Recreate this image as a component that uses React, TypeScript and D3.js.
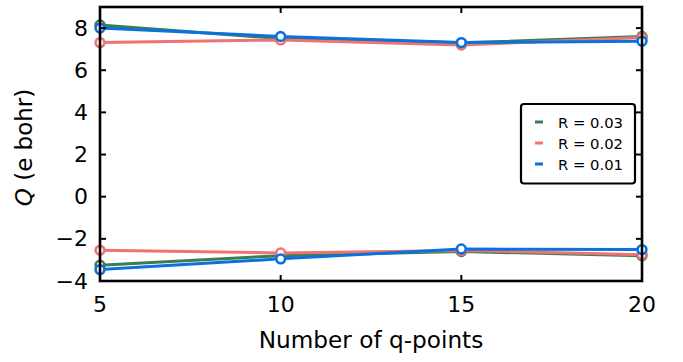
import React from "react";
import * as d3 from "d3";

const qPoints = [5, 10, 15, 20];
const seriesNames = ["R = 0.03", "R = 0.02", "R = 0.01"];
const seriesColors = ["#3a7d55", "#f07373", "#0a72dc"];
// Upper and lower branches of Q for each R
const upperR003 = [8.15, 7.5, 7.3, 7.6];
const lowerR003 = [-3.25, -2.8, -2.6, -2.8];
const upperR002 = [7.31, 7.44, 7.2, 7.55];
const lowerR002 = [-2.54, -2.67, -2.55, -2.75];
const upperR001 = [8.0, 7.6, 7.31, 7.38];
const lowerR001 = [-3.46, -2.95, -2.48, -2.51];
const yTicks = [-4, -2, 0, 2, 4, 6, 8];
const xTicks = [5, 10, 15, 20];

const series = [
  { name: seriesNames[0], color: seriesColors[0], branches: [upperR003, lowerR003] },
  { name: seriesNames[1], color: seriesColors[1], branches: [upperR002, lowerR002] },
  { name: seriesNames[2], color: seriesColors[2], branches: [upperR001, lowerR001] },
];

const W = 683;
const H = 362;
const left = 100;
const right = 642;
const top = 7;
const bottom = 281;

export default function App() {
  const x = d3.scaleLinear().domain([5, 20]).range([left, right]);
  const y = d3.scaleLinear().domain([-4, 9]).range([bottom, top]);
  const line = d3
    .line<number>()
    .x((_, i) => x(qPoints[i]))
    .y((d) => y(d));
  const font = "DejaVu Sans, sans-serif";
  const tickLen = 6;

  return (
    <svg
      width={W}
      height={H}
      style={{ position: "absolute", left: 0, top: 0, background: "#fff" }}
      fontFamily={font}
    >
      {/* data lines */}
      {series.map((s) =>
        s.branches.map((b, bi) => (
          <path
            key={s.name + bi}
            d={line(b) || ""}
            fill="none"
            stroke={s.color}
            strokeWidth={3}
            strokeLinejoin="round"
          />
        ))
      )}
      {/* markers */}
      {series.map((s) =>
        s.branches.map((b, bi) =>
          b.map((v, i) => (
            <circle
              key={s.name + bi + "-" + i}
              cx={x(qPoints[i])}
              cy={y(v)}
              r={4.4}
              fill="#fff"
              stroke={s.color}
              strokeWidth={2.6}
            />
          ))
        )
      )}
      {/* frame */}
      <rect
        x={left}
        y={top}
        width={right - left}
        height={bottom - top}
        fill="none"
        stroke="#000"
        strokeWidth={2.6}
      />
      {/* y ticks, both sides */}
      {yTicks.map((t) => (
        <g key={"y" + t}>
          <line x1={left} x2={left + tickLen} y1={y(t)} y2={y(t)} stroke="#000" strokeWidth={2} />
          <line x1={right} x2={right - tickLen} y1={y(t)} y2={y(t)} stroke="#000" strokeWidth={2} />
          <text
            x={88}
            y={y(t)}
            textAnchor="end"
            dominantBaseline="central"
            fontSize={22}
            fill="#000"
          >
            {t < 0 ? "\u2212" + Math.abs(t) : String(t)}
          </text>
        </g>
      ))}
      {/* x ticks, both sides */}
      {xTicks.map((t) => (
        <g key={"x" + t}>
          <line x1={x(t)} x2={x(t)} y1={bottom} y2={bottom - tickLen} stroke="#000" strokeWidth={2} />
          <line x1={x(t)} x2={x(t)} y1={top} y2={top + tickLen} stroke="#000" strokeWidth={2} />
          <text x={x(t)} y={312.3} textAnchor="middle" fontSize={22} fill="#000">
            {t}
          </text>
        </g>
      ))}
      {/* axis labels */}
      <text x={371} y={348.3} textAnchor="middle" fontSize={23.2} fill="#000">
        Number of q-points
      </text>
      <text
        transform={`translate(24,${147.5}) rotate(-90)`}
        textAnchor="middle"
        dominantBaseline="central"
        fontSize={23}
        fill="#000"
      >
        <tspan fontStyle="italic">Q</tspan> (e bohr)
      </text>
      {/* legend */}
      <rect x={521} y={104} width={114} height={79.5} rx={3} fill="#fff" stroke="#000" strokeWidth={2.2} />
      {series.map((s, i) => (
        <g key={"leg" + s.name}>
          <line
            x1={535}
            x2={543}
            y1={122 + i * 21}
            y2={122 + i * 21}
            stroke={s.color}
            strokeWidth={3}
          />
          <text x={558} y={122 + i * 21} dominantBaseline="central" fontSize={14.8} fill="#000">
            {s.name}
          </text>
        </g>
      ))}
    </svg>
  );
}
